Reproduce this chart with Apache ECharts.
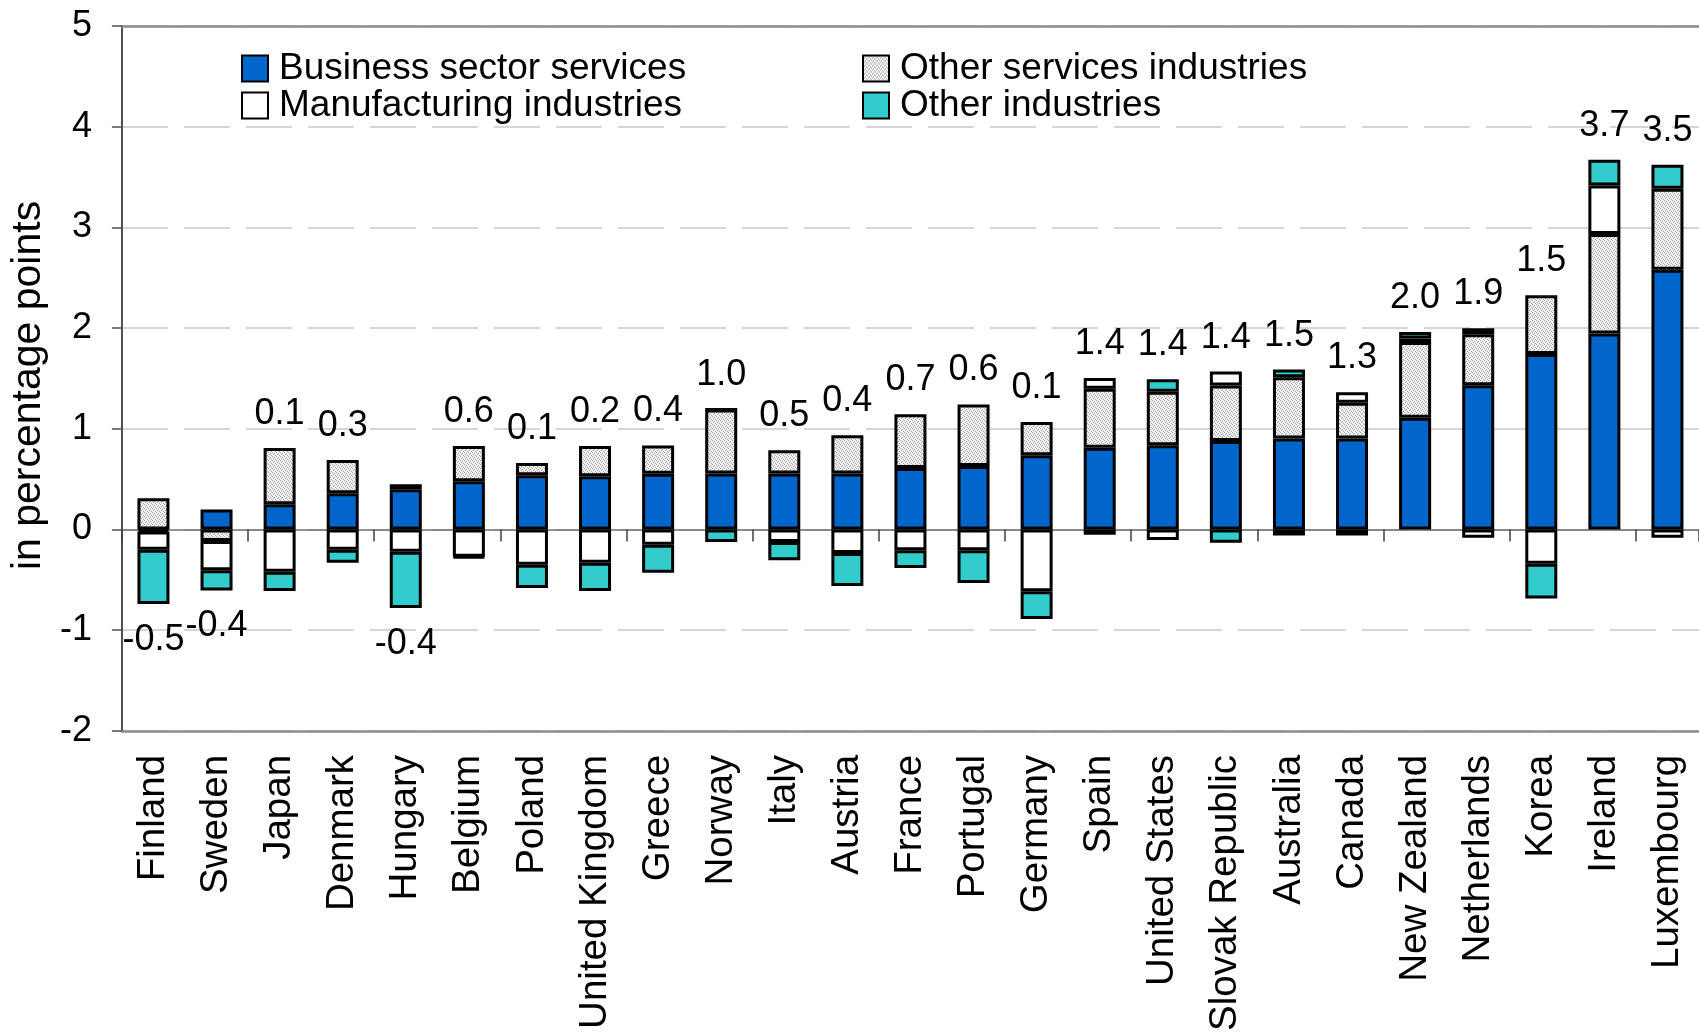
<!DOCTYPE html>
<html>
<head>
<meta charset="utf-8">
<script src="https://cdn.jsdelivr.net/npm/echarts@6/dist/echarts.min.js"></script>
<style>
  html, body { margin: 0; padding: 0; background: #fff; }
  #chart { width: 1699px; height: 1034px; }
</style>
</head>
<body>
<div id="chart"></div>
<script>
// Contribution to growth by industry group, in percentage points
const countries = ['Finland', 'Sweden', 'Japan', 'Denmark', 'Hungary', 'Belgium', 'Poland',
  'United Kingdom', 'Greece', 'Norway', 'Italy', 'Austria', 'France', 'Portugal', 'Germany',
  'Spain', 'United States', 'Slovak Republic', 'Australia', 'Canada', 'New Zealand',
  'Netherlands', 'Korea', 'Ireland', 'Luxembourg'];

const businessServices = [-0.02, 0.20, 0.25, 0.36, 0.40, 0.48, 0.54, 0.53, 0.555, 0.556, 0.556,
  0.556, 0.61, 0.632, 0.738, 0.813, 0.836, 0.878, 0.904, 0.904, 1.111, 1.433, 1.742, 1.947, 2.58];

const otherServices = [0.31, -0.115, 0.56, 0.33, 0.05, 0.35, 0.12, 0.30, 0.28, 0.636, 0.23,
  0.38, 0.535, 0.61, 0.33, 0.586, 0.532, 0.552, 0.608, 0.355, 0.75, 0.506, 0.585, 0.988, 0.805];

const manufacturing = [-0.18, -0.29, -0.42, -0.20, -0.22, -0.27, -0.35, -0.33, -0.15, 0, -0.125,
  -0.234, -0.207, -0.207, -0.612, 0.106, -0.105, 0.138, -0.059, 0.105, 0.035, -0.082, -0.339,
  0.48, -0.082];

const otherIndustries = [-0.54, -0.20, -0.19, -0.13, -0.56, -0.01, -0.23, -0.28, -0.28, -0.125,
  -0.18, -0.326, -0.175, -0.323, -0.277, -0.053, 0.125, -0.131, 0.076, -0.06, 0.065, 0.06,
  -0.345, 0.256, 0.237];

const totals = [-0.5, -0.4, 0.1, 0.3, -0.4, 0.6, 0.1, 0.2, 0.4, 1.0, 0.5, 0.4, 0.7, 0.6, 0.1,
  1.4, 1.4, 1.4, 1.5, 1.3, 2.0, 1.9, 1.5, 3.7, 3.5];

const FONT = "'Liberation Sans', Arial, sans-serif";

// Fine stippled grey fill
function stipplePattern() {
  const c = document.createElement('canvas');
  c.width = 4; c.height = 4;
  const g = c.getContext('2d');
  g.fillStyle = '#efefef';
  g.fillRect(0, 0, 4, 4);
  g.fillStyle = '#a8a8a8';
  [[0, 0], [2, 1], [1, 2], [3, 3]].forEach(([x, y]) => g.fillRect(x, y, 1, 1));
  return c;
}
const greyFill = { image: stipplePattern(), repeat: 'repeat' };

const groups = [businessServices, otherServices, manufacturing, otherIndustries];
const stackTop = countries.map((_, i) => groups.reduce((s, a) => s + Math.max(a[i], 0), 0));
const stackBottom = countries.map((_, i) => groups.reduce((s, a) => s + Math.min(a[i], 0), 0));

const totalLabels = totals.map((t, i) => ({
  value: t >= 0 ? stackTop[i] : stackBottom[i],
  label: { position: t >= 0 ? 'top' : 'bottom', distance: t >= 0 ? 16 : 18 }
}));

function segment(name, data, color) {
  return {
    name: name,
    type: 'bar',
    stack: 'total',
    xAxisIndex: 0,
    barWidth: 32,
    data: data,
    itemStyle: { color: color, borderColor: '#000', borderWidth: 3 }
  };
}

const legendCommon = {
  orient: 'vertical',
  top: 45,
  icon: 'rect',
  itemWidth: 26,
  itemHeight: 26,
  itemGap: 0,
  itemStyle: { borderColor: '#000', borderWidth: 2 },
  textStyle: { fontSize: 37, lineHeight: 37, color: '#000', fontFamily: FONT, padding: [0, 0, 0, 6] }
};

const chart = echarts.init(document.getElementById('chart'), null, { renderer: 'canvas' });
chart.setOption({
  animation: false,
  backgroundColor: '#fff',
  textStyle: { fontFamily: FONT },
  grid: { left: 117, right: 0, top: 26, bottom: 296, containLabel: false },
  legend: [
    Object.assign({ left: 236, data: ['Business sector services', 'Manufacturing industries'] }, legendCommon),
    Object.assign({ left: 857, data: ['Other services industries', 'Other industries'] }, legendCommon)
  ],
  xAxis: [
    {
      type: 'category', data: countries, position: 'bottom',
      axisLine: { onZero: true, lineStyle: { color: '#6e6e6e', width: 1.5 } },
      axisTick: { show: true, length: 12, lineStyle: { color: '#404040', width: 1.5 } },
      axisLabel: { show: false },
      splitLine: { show: false }
    },
    {
      type: 'category', data: countries, position: 'bottom',
      axisLine: { onZero: false, lineStyle: { color: '#8c8c8c', width: 2.5 } },
      axisTick: { show: false },
      axisLabel: { interval: 0, rotate: 90, fontSize: 38.5, color: '#000', margin: 24, fontFamily: FONT },
      splitLine: { show: false }
    },
    {
      type: 'category', data: countries, position: 'top',
      axisLine: { onZero: false, lineStyle: { color: '#8c8c8c', width: 2.5 } },
      axisTick: { show: false },
      axisLabel: { show: false },
      splitLine: { show: false }
    }
  ],
  yAxis: {
    type: 'value', min: -2, max: 5, interval: 1,
    name: 'in percentage points',
    nameLocation: 'middle',
    nameGap: 50,
    nameTextStyle: { fontSize: 41, color: '#000', fontFamily: FONT, padding: [0, 14, 0, 0] },
    axisLine: { show: true, lineStyle: { color: '#505050', width: 2 } },
    axisTick: { show: true, length: 10, lineStyle: { color: '#505050', width: 1.5 } },
    axisLabel: { fontSize: 36, color: '#000', margin: 30, fontFamily: FONT },
    splitLine: { show: true, lineStyle: { color: '#c8c8c8', width: 1.5, type: [46, 16] } }
  },
  series: [
    segment('Business sector services', businessServices, '#0066cc'),
    segment('Other services industries', otherServices, greyFill),
    segment('Manufacturing industries', manufacturing, '#ffffff'),
    segment('Other industries', otherIndustries, '#33cccc'),
    {
      name: 'Total',
      type: 'scatter',
      xAxisIndex: 0,
      symbolSize: 0,
      silent: true,
      itemStyle: { color: 'rgba(0,0,0,0)', opacity: 1 },
      data: totalLabels,
      label: {
        show: true,
        fontSize: 36,
        color: '#000',
        opacity: 1,
        fontFamily: FONT,
        formatter: p => totals[p.dataIndex].toFixed(1)
      }
    }
  ]
});
</script>
</body>
</html>
